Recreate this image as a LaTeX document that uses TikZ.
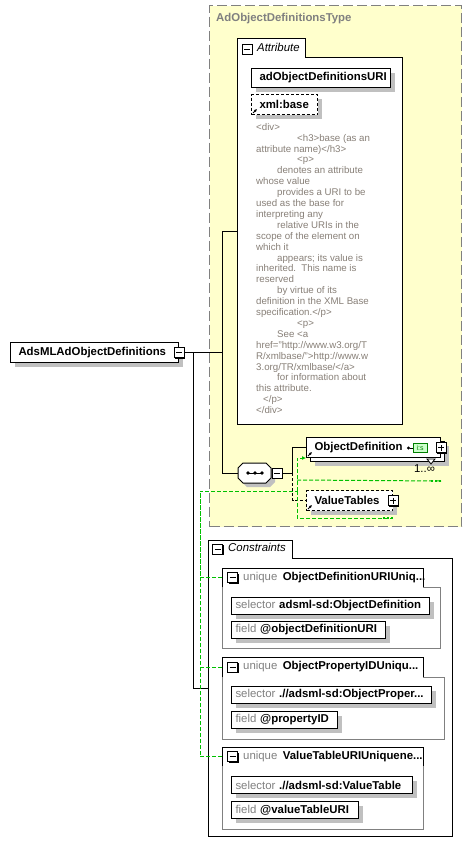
\documentclass[tikz,border=0pt]{standalone}
\usepackage{fontspec}
\setmainfont{Liberation Sans}
\usetikzlibrary{positioning,shadows,arrows.meta}

\definecolor{schemayellow}{RGB}{255,255,204}
\definecolor{shadowgrey}{RGB}{192,192,192}
\definecolor{typegrey}{RGB}{128,128,128}
\definecolor{labelgrey}{RGB}{128,128,128}
\definecolor{docgrey}{RGB}{136,128,120}
\definecolor{refgreen}{RGB}{0,192,0}
\definecolor{iconfill}{RGB}{204,255,204}
\definecolor{icondraw}{RGB}{0,128,0}

\newcommand{\elemfont}{\fontsize{11.4}{13}\selectfont\bfseries}
\newcommand{\plainfont}{\fontsize{11.4}{13}\selectfont}
\newcommand{\docfont}{\fontsize{9.7}{10.9}\selectfont}

\tikzset{
	boxbase/.style={draw, fill=white, line width=1pt, font=\elemfont, inner xsep=8pt, inner ysep=0pt, minimum height=20pt, anchor=north west, align=left},
	elembox/.style={boxbase, general shadow={fill=shadowgrey, shadow xshift=4pt, shadow yshift=-4pt}},
	optbox/.style={elembox, dash pattern=on 3pt off 2pt},
	multibox/.style={boxbase, general shadow={fill=shadowgrey, shadow xshift=8pt, shadow yshift=-8pt}, general shadow={draw, fill=white, line width=1pt, shadow xshift=4pt, shadow yshift=-4pt}},
	cbox/.style={elembox, font=\plainfont, inner xsep=4pt, minimum height=17pt},
	grpnode/.style={anchor=north west, inner sep=0pt, draw=none},
	grpframe/.style={line width=1pt, fill=white},
	iconbase/.style={draw, fill=white, line width=1pt, minimum size=10pt, inner sep=0pt, general shadow={fill=black, shadow xshift=1pt, shadow yshift=-1pt}},
	minusicon/.style={iconbase, path picture={\draw[line width=1pt] ([xshift=-3pt]path picture bounding box.center) -- ([xshift=3pt]path picture bounding box.center);}},
	plusicon/.style={iconbase, path picture={\draw[line width=1pt] ([xshift=-3pt]path picture bounding box.center) -- ([xshift=3pt]path picture bounding box.center) ([yshift=-3pt]path picture bounding box.center) -- ([yshift=3pt]path picture bounding box.center);}},
	tablabel/.style={anchor=west, inner sep=0pt, font=\plainfont\itshape, text height=8pt, text depth=2.4pt},
	kindlabel/.style={anchor=west, inner sep=0pt, font=\plainfont, text=labelgrey, text height=8pt, text depth=2.4pt},
	namelabel/.style={anchor=west, inner sep=0pt, font=\elemfont, text height=8pt, text depth=2.4pt},
	doctext/.style={anchor=north west, inner sep=0pt, align=left, font=\docfont, text=docgrey},
	conn/.style={line width=1pt},
	optconn/.style={conn, dash pattern=on 3pt off 2pt},
	keyref/.style={draw=refgreen, line width=1pt, dash pattern=on 4pt off 2pt},
	keyrefend/.style={draw=refgreen, line width=2.5pt, dash pattern=on 2pt off 2pt},
	linkarrow/.style={line width=0.8pt, -{Latex[length=3pt,width=3pt]}},
}

\begin{document}
\begin{tikzpicture}[x=1pt, y=-1pt]
	\useasboundingbox (0,0) rectangle (471,854);
	% Typ-Hintergrund
	\node[grpnode, draw=typegrey, fill=schemayellow, line width=1.3pt, dash pattern=on 10pt off 4pt, minimum width=252pt, minimum height=521pt] (adtype) at (209,5) {};
	\node[namelabel, text=typegrey] (adtypetitle) at (216,19) {AdObjectDefinitionsType};

	% Wurzelelement
	\node[elembox, text width=152pt] (root) at (10,342) {AdsMLAdObjectDefinitions};
	\node[minusicon] (rootminus) at (root.east) {};

	% Attribute
	\node[grpnode, minimum width=165pt, minimum height=386pt] (attr) at (237,38) {};
	\draw[grpframe] (237,38) -- (305,38) -- (305,57) -- (402,57) -- (402,424) -- (237,424) -- cycle;
	\node[minusicon] (attrminus) at (247,49) {};
	\node[tablabel] (attrlabel) at (257,49) {Attribute};
	\node[elembox, text width=123pt, minimum height=19pt] (defuri) at (251,68) {adObjectDefinitionsURI};
	\node[optbox, text width=50pt] (xmlbase) at (251,94) {xml:base};
	\draw[linkarrow] ([xshift=2pt,yshift=2pt]xmlbase.south west) -- ++(4,-4);
	\node[doctext] (xmlbasedoc) at (256,123) {<div>\\
\hspace*{41pt}<h3>base (as an\\
attribute name)</h3>\\
\hspace*{41pt}<p>\\
\hspace*{21pt}denotes an attribute\\
whose value\\
\hspace*{21pt}provides a URI to be\\
used as the base for\\
interpreting any\\
\hspace*{21pt}relative URIs in the\\
scope of the element on\\
which it\\
\hspace*{21pt}appears; its value is\\
inherited.\ \ This name is\\
reserved\\
\hspace*{21pt}by virtue of its\\
definition in the XML Base\\
specification.</p>\\
\hspace*{41pt}<p>\\
\hspace*{21pt}See <a\\
href="http://www.w3.org/T\\
R/xmlbase/">http://www.w\\
3.org/TR/xmlbase/</a>\\
\hspace*{21pt}for information about\\
this attribute.\\
\hspace*{7pt}</p>\\
</div>};

	% Sequenz
	\node[grpnode, minimum width=33pt, minimum height=20pt] (seq) at (238,463) {};
	\fill[shadowgrey, shift={(4,4)}] (238,468) -- (243,463) -- (266,463) -- (271,468) -- (271,478) -- (266,483) -- (243,483) -- (238,478) -- cycle;
	\draw[grpframe] (238,468) -- (243,463) -- (266,463) -- (271,468) -- (271,478) -- (266,483) -- (243,483) -- (238,478) -- cycle;
	\draw[conn] (247,473) -- (263,473);
	\foreach \x in {248,255,262}
		\fill (\x,473) circle (1.8);
	\node[minusicon] (seqminus) at (277,473) {};
	\coordinate (seqfork) at ([xshift=10pt]seqminus.east);

	% Kindelemente
	\node[multibox, text width=118pt] (objdef) at (306,437) {ObjectDefinition};
	\draw[grpframe, line width=0.8pt] (427,459) -- (435,459) -- (431,464) -- cycle;
	\node[plusicon] (objdefplus) at (objdef.east) {};
	\node[draw=icondraw, fill=iconfill, line width=0.8pt, minimum width=14pt, minimum height=9pt, inner sep=0pt, font=\fontsize{7}{7}\selectfont, text=icondraw] (objdefkey) at (420,448) {i:s};
	\draw[conn, {Circle[length=3pt]}-] (407,448) -- (objdefkey.west);
	\draw[linkarrow] ([xshift=2pt,yshift=2pt]objdef.south west) -- ++(4,-4);
	\node[kindlabel, text=black, anchor=center] (objdefocc) at (424.5,470) {1..∞};
	\node[optbox, text width=70pt] (vtabs) at (306,490) {ValueTables};
	\node[plusicon] (vtabsplus) at (vtabs.east) {};
	\draw[linkarrow] ([xshift=2pt,yshift=2pt]vtabs.south west) -- ++(4,-4);

	% Constraints
	\node[grpnode, minimum width=244pt, minimum height=296pt] (cons) at (208,540) {};
	\draw[grpframe] (208,540) -- (292,540) -- (292,558) -- (452,558) -- (452,836) -- (208,836) -- cycle;
	\node[minusicon] (consminus) at (217.5,549) {};
	\node[tablabel] (conslabel) at (228,549) {Constraints};

	% unique 1
	\node[grpnode, minimum width=201pt, minimum height=19pt] (uqdeftab) at (222,568) {};
	\draw[conn, draw=labelgrey] (222,587) -- (222,648) -- (440,648) -- (440,587) -- (423,587);
	\draw[conn] (222,587) |- (423,568) -- (423,587);
	\node[minusicon] (uqdefminus) at (232.5,577.5) {};
	\node[kindlabel, right=5pt of uqdefminus] (uqdefkind) {unique};
	\node[namelabel, anchor=base west] (uqdefname) at ([xshift=5pt]uqdefkind.base east) {ObjectDefinitionURIUniq...};
	\node[cbox, text width=190pt] (uqdefsel) at (231,597) {\textcolor{labelgrey}{selector}~\textbf{adsml-sd:ObjectDefinition}};
	\node[cbox, text width=146pt] (uqdeffield) at (231,621) {\textcolor{labelgrey}{field}~\textbf{@objectDefinitionURI}};

	% unique 2
	\node[grpnode, minimum width=201pt, minimum height=20pt] (uqproptab) at (222,657) {};
	\draw[conn, draw=labelgrey] (222,677) -- (222,739) -- (444,739) -- (444,677) -- (423,677);
	\draw[conn] (222,677) |- (423,657) -- (423,677);
	\node[minusicon] (uqpropminus) at (232.5,667) {};
	\node[kindlabel, right=5pt of uqpropminus] (uqpropkind) {unique};
	\node[namelabel, anchor=base west] (uqpropname) at ([xshift=5pt]uqpropkind.base east) {ObjectPropertyIDUniqu...};
	\node[cbox, text width=192pt] (uqpropsel) at (231,686) {\textcolor{labelgrey}{selector}~\textbf{.//adsml-sd:ObjectProper...}};
	\node[cbox, text width=98pt] (uqpropfield) at (231,711) {\textcolor{labelgrey}{field}~\textbf{@propertyID}};

	% unique 3
	\node[grpnode, minimum width=201pt, minimum height=19pt] (uqvtabtab) at (222,747) {};
	\draw[conn, draw=labelgrey] (222,766) -- (222,829) -- (423,829) -- (423,766);
	\draw[conn] (222,766) |- (423,747) -- (423,766);
	\node[minusicon] (uqvtabminus) at (232.5,756.5) {};
	\node[kindlabel, right=5pt of uqvtabminus] (uqvtabkind) {unique};
	\node[namelabel, anchor=base west] (uqvtabname) at ([xshift=5pt]uqvtabkind.base east) {ValueTableURIUniquene...};
	\node[cbox, text width=173pt] (uqvtabsel) at (231,776) {\textcolor{labelgrey}{selector}~\textbf{.//adsml-sd:ValueTable}};
	\node[cbox, text width=119pt] (uqvtabfield) at (231,801) {\textcolor{labelgrey}{field}~\textbf{@valueTableURI}};

	% Verbindungen
	\draw[conn] (rootminus.east) -| ([xshift=-15pt]attr.west) -- (attr.west);
	\draw[conn] (rootminus.east) -| ([xshift=-16pt]seq.west) -- (seq.west);
	\draw[conn] (rootminus.east) -| ([xshift=-15pt]cons.west) -- (cons.west);
	\draw[conn] (seqminus.east) -- (seqfork) |- (objdef.west);
	\draw[optconn] (seqfork) |- (vtabs.west);

	% Schluesselbezuege
	\coordinate (refbus) at (200,491);
	\coordinate (refsplit) at (297,491);
	\draw[keyref] (uqdeftab.west) -| (refbus) -- (refsplit);
	\draw[keyref] (uqproptab.west) -| (refbus);
	\draw[keyref] (uqvtabtab.west) -| (refbus);
	\draw[keyref, -{Latex[length=4pt,width=4pt]}] (refsplit) |- (objdef.south west);
	\draw[keyref] (refsplit) |- ([yshift=-7pt]vtabs.south east);
	\draw[keyref] ([yshift=11pt]refsplit) -- ([yshift=-23pt]objdef.south east);
	\draw[keyrefend] ([xshift=-10pt,yshift=-23pt]objdef.south east) -- ([yshift=-23pt]objdef.south east);
	\draw[keyrefend] ([xshift=-10pt,yshift=-7pt]vtabs.south east) -- ([yshift=-7pt]vtabs.south east);
\end{tikzpicture}
\end{document}
